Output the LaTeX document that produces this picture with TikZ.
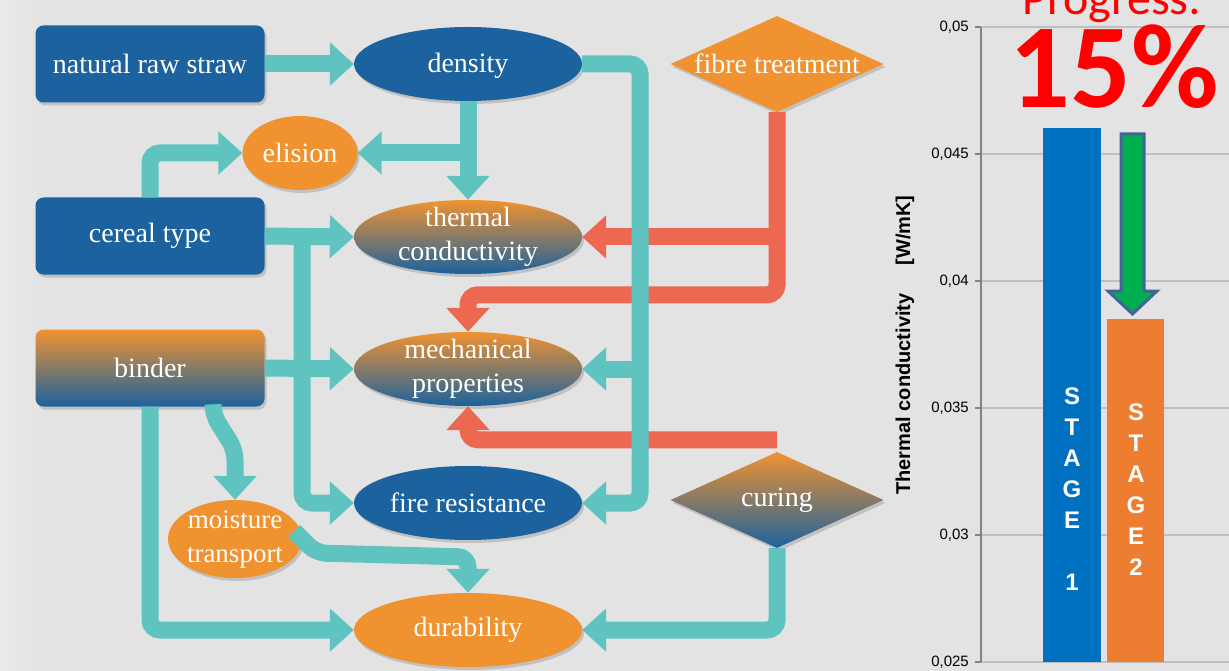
\documentclass[tikz,border=0pt]{standalone}
\usepackage{fontspec}
\setmainfont{Liberation Serif}
\newfontfamily\chartfont{Liberation Sans}
\newfontfamily\calfont{Carlito}
\usetikzlibrary{shapes.geometric,arrows.meta,calc,shadows}

\definecolor{nblue}{RGB}{28,98,158}
\definecolor{norange}{RGB}{240,146,48}
\definecolor{tealc}{RGB}{95,196,192}
\definecolor{coral}{RGB}{236,104,80}
\definecolor{bgc}{RGB}{227,227,227}
\definecolor{barblue}{RGB}{0,112,192}
\definecolor{barorange}{RGB}{237,125,49}
\definecolor{agreen}{RGB}{0,176,80}
\definecolor{aedge}{RGB}{65,100,150}
\definecolor{gridc}{RGB}{192,192,192}
\definecolor{axisc}{RGB}{130,130,130}

\tikzset{
  shd/.style={drop shadow={shadow xshift=2pt,shadow yshift=-3pt,opacity=0.22,fill=black!70}},
  boxn/.style={rounded corners=8pt, minimum width=229pt, minimum height=77pt, inner sep=0pt, shd},
  elln/.style={ellipse, minimum width=228pt, minimum height=74pt, inner sep=0pt, shd},
  dian/.style={diamond, minimum width=213pt, minimum height=96pt, inner sep=0pt, shd},
  lbl/.style={text=white, font=\fontsize{28}{34}\selectfont, align=center, inner sep=0pt},
  bluef/.style={fill=nblue},
  orangef/.style={fill=norange},
  grad/.style={top color=norange, bottom color=nblue},
  flow/.style={line width=17pt, rounded corners=10pt, draw=tealc},
  rflow/.style={line width=17pt, rounded corners=10pt, draw=coral},
  ahead/.style={-{Triangle[width=42pt,length=24pt]}},
  tick/.style={font=\chartfont\fontsize{15}{15}\selectfont, anchor=east, inner sep=0pt},
  stagetxt/.style={font=\chartfont\bfseries\fontsize{24}{31}\selectfont, text=white, align=center, inner sep=0pt},
}

\begin{document}
\begin{tikzpicture}[x=1pt,y=-1pt]
\useasboundingbox (0,0) rectangle (1229,671);
\fill[bgc] (0,0) rectangle (1229,671);
\shade[left color=white!92!black, right color=bgc] (0,0) rectangle (40,671);

% ---------- nodes ----------
\node[boxn, bluef] (nrs) at (150,64) {};
\node[lbl] (nrst) at (nrs) {natural raw straw};
\node[boxn, bluef] (cer) at (150,236) {};
\node[lbl] (cert) at (cer) {cereal type};
\node[boxn, grad] (bind) at (150,368) {};
\node[lbl] (bindt) at (bind) {binder};

\node[elln, bluef] (dens) at (468,64) {};
\node[lbl] (denst) at ([yshift=-2pt]dens.center) {density};
\node[elln, grad] (tc) at (468,237) {};
\node[lbl] (tct) at (tc) {thermal\\conductivity};
\node[elln, grad] (mech) at (468,369) {};
\node[lbl] (mecht) at (mech) {mechanical\\properties};
\node[elln, bluef] (fire) at (468,503) {};
\node[lbl] (firet) at (fire) {fire resistance};
\node[elln, orangef] (dur) at (468,630) {};
\node[lbl] (durt) at (dur) {durability};

\node[ellipse, minimum width=115pt, minimum height=74pt, inner sep=0pt, shd, orangef] (elis) at (300,153) {};
\node[lbl] (elist) at (elis) {elision};
\node[ellipse, minimum width=134pt, minimum height=78pt, inner sep=0pt, shd, orangef] (moist) at (235,539) {};
\node[lbl, font=\fontsize{27}{34}\selectfont] (moistt) at (moist) {moisture\\transport};

\node[dian, orangef] (fib) at (777,64) {};
\node[lbl] (fibt) at (fib) {fibre treatment};
\node[dian, grad] (cur) at (777,500) {};
\node[lbl] (curt) at (cur) {curing};

% ---------- red connectors ----------
\draw[rflow, ahead] (fib.south) |- ($(mech.north)+(0,-37)$) -- (mech.north);
\draw[rflow, ahead] (fib.south |- tc.east) -- (tc.east);
\draw[rflow, ahead] ($(cur.north)+(0,-12)$) -| (mech.south);

% ---------- teal connectors ----------
\coordinate (dr) at (640,503);
\coordinate (cv) at (302,237);
\coordinate (mdc) at (468,557);
\draw[flow, ahead] (nrs.east |- dens.west) -- (dens.west);
\draw[flow, ahead] (dens.east) -| (dr) -- (fire.east);
\draw[flow, ahead] (dr |- mech.east) -- (mech.east);
\draw[flow, ahead] (dens.south) -- (tc.north);
\draw[flow, ahead] (dens.south |- elis.east) -- (elis.east);
\draw[flow, ahead] (cer.north) |- (elis.west);
\draw[flow, ahead] (cer.east) -- (tc.west);
\draw[flow, ahead] (cv) |- (fire.west);
\draw[flow, ahead] (bind.east) -- (mech.west);
\draw[flow, ahead] (bind.south) |- (dur.west);
\draw[flow, ahead] ($(bind.south)+(63,0)$) -- ++(0,8) -- ($(moist.north)+(0,-50)$) -- (moist.north);
\draw[flow, ahead] ($(moist.east)+(-8,-8)$) -- ($(moist.east)+(14,14)$) -- (mdc) -- (dur.north);
\draw[flow, ahead] (cur.south) |- (dur.east);

% ---------- chart ----------
\foreach \yy in {27,154,281,408,535,662}{
  \draw[gridc, line width=1.2pt] (981,\yy) -- (1229,\yy);
  \draw[axisc, line width=1.2pt] (975,\yy) -- (981,\yy);
}
\node[tick] (t1) at (969,27) {0,05};
\node[tick] (t2) at (969,154) {0,045};
\node[tick] (t3) at (969,281) {0,04};
\node[tick] (t4) at (969,408) {0,035};
\node[tick] (t5) at (969,535) {0,03};
\node[tick] (t6) at (969,662) {0,025};
\draw[axisc, line width=1.4pt] (981,27) -- (981,662);

\node[rotate=90, font=\chartfont\bfseries\fontsize{20}{20}\selectfont, inner sep=0pt] (ytitle) at (905,345) {Thermal conductivity\hspace{28pt}[W/mK]};

\fill[barblue] (1043,128) rectangle (1101,662);
\fill[barorange] (1107,319) rectangle (1164,662);
\node[stagetxt] (s1) at (1072,489) {S\\T\\A\\G\\E\\[31pt]1};
\node[stagetxt] (s2) at (1136,490) {S\\T\\A\\G\\E\\2};

\filldraw[fill=agreen, draw=aedge, line width=3pt, line join=miter]
  (1121,134) -- (1144,134) -- (1144,291) -- (1157,291) -- (1132.5,314)
  -- (1108,291) -- (1121,291) -- cycle;

\node[font=\calfont\fontsize{48}{48}\selectfont, text=red, anchor=base, inner sep=0pt] (prog) at (1112,15) {Progress:};
\node[font=\calfont\bfseries\fontsize{120}{120}\selectfont, text=red, anchor=base, inner sep=0pt] (pct) at (1114,108) {15\%};
\end{tikzpicture}
\end{document}
